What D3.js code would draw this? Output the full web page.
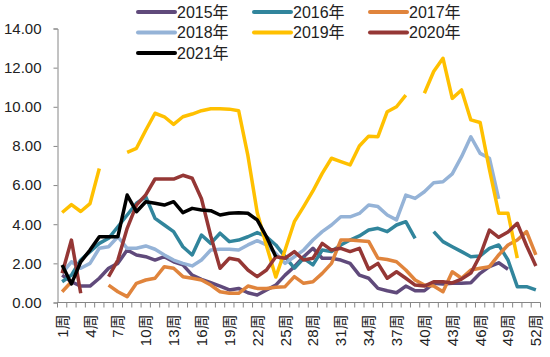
<!DOCTYPE html>
<html><head><meta charset="utf-8">
<script src="https://cdn.jsdelivr.net/npm/d3@7/dist/d3.min.js"></script>
<style>
html,body{margin:0;padding:0;background:#fff;}
text{font-family:"Liberation Sans","Noto Sans CJK SC",sans-serif;fill:#222;}
</style></head>
<body><svg id="c" width="550" height="357"></svg>
<script>
const weeks = d3.range(1, 53);
const weekLabels = weeks.map(w => w + "周");
const tickWeeks = [1,4,7,10,13,16,19,22,25,28,31,34,37,40,43,46,49,52];
const yTicks = [0,2,4,6,8,10,12,14];
const seriesNames = ["2015年","2016年","2017年","2018年","2019年","2020年","2021年"];
const seriesColors = ["#604A7B","#31859C","#E0843C","#95B3D7","#FFC000","#953735","#000000"];

const y2015 = [1.4,1.06,0.84,0.84,1.24,1.75,2.0,2.68,2.43,2.34,2.17,2.34,2.08,1.92,1.4,1.18,1.01,0.84,0.64,0.72,0.5,0.38,0.64,0.89,1.4,1.83,2.34,2.77,2.26,2.26,2.17,2.0,1.4,1.24,0.72,0.6,0.5,0.84,0.6,0.6,0.98,0.95,0.98,0.98,1.01,1.49,1.83,2.03,1.7,null,null,null];
const y2016 = [1.06,1.4,2.17,2.6,3.02,3.28,3.87,4.47,5.07,5.4,4.3,3.96,3.62,2.85,2.43,3.45,3.02,3.54,3.11,3.19,3.36,3.57,3.36,2.94,2.34,1.75,2.26,1.92,2.68,2.6,2.94,3.19,3.4,3.7,3.79,3.62,3.96,4.13,3.28,null,3.62,3.11,2.85,2.6,2.34,2.38,2.77,2.94,2.17,0.81,0.81,0.64];
const y2017 = [0.55,1.06,null,null,null,0.89,0.55,0.3,0.98,1.15,1.24,1.83,1.75,1.32,1.24,1.15,0.89,0.55,0.47,0.47,0.84,0.72,0.72,0.78,0.81,1.32,0.98,1.06,1.49,2.0,3.19,3.19,3.15,3.12,2.26,2.2,2.08,1.66,1.15,0.89,0.84,0.55,1.57,1.24,1.66,1.75,1.83,2.43,2.94,3.19,3.62,2.43];
const y2018 = [1.5,2.08,1.75,2.0,2.77,2.85,3.36,2.77,2.77,2.89,2.72,2.43,2.17,2.0,1.87,2.17,2.68,2.72,2.72,2.68,2.94,3.16,2.94,2.51,2.0,2.34,2.68,3.19,3.62,3.96,4.38,4.38,4.55,4.98,4.9,4.47,4.22,5.49,5.32,5.66,6.12,6.17,6.57,7.45,8.47,7.62,7.37,5.3,null,null,null,null];
const y2019 = [4.6,5.0,4.65,5.05,6.85,null,null,7.67,7.88,8.8,9.67,9.49,9.1,9.49,9.63,9.8,9.9,9.9,9.88,9.8,7.5,4.6,2.9,1.3,2.68,4.13,4.9,5.7,6.6,7.37,7.2,7.03,8.0,8.5,8.47,9.75,10.0,10.6,null,10.69,11.8,12.48,10.43,10.86,9.33,9.2,6.8,4.56,4.56,2.27,null,null];
const y2020 = [1.49,3.19,0.47,null,null,1.32,2.17,3.79,4.98,5.5,6.31,6.31,6.31,6.5,6.35,5.3,3.4,1.75,2.26,2.17,1.66,1.32,1.66,2.34,2.26,2.6,2.17,2.26,3.02,2.68,2.77,2.6,2.77,1.7,2.0,1.24,1.57,1.24,0.89,0.84,1.06,1.06,1.0,1.2,1.5,2.4,3.7,3.33,3.6,4.05,2.9,1.87];
const y2021 = [1.92,0.95,2.08,2.68,3.36,3.36,3.36,5.49,4.64,5.15,5.07,4.98,5.15,4.59,4.81,4.73,4.69,4.47,4.56,4.59,4.56,4.22,3.36,2.34,null,null,null,null,null,null,null,null,null,null,null,null,null,null,null,null,null,null,null,null,null,null,null,null,null,null,null,null];
const seriesValues = [y2015,y2016,y2017,y2018,y2019,y2020,y2021];

const svg = d3.select("#c");
const x = d3.scaleBand().domain(weeks).range([57.5, 540.5]).paddingInner(0).paddingOuter(0);
const y = d3.scaleLinear().domain([0,14]).range([302.5, 28.5]);
const cx = w => x(w) + x.bandwidth()/2;
const axisColor = "#868686";

// Y axis
const yAxis = d3.axisLeft(y).tickValues(yTicks).tickFormat(d3.format(".2f")).tickSize(4).tickPadding(12);
const gy = svg.append("g").attr("transform","translate(57.5,0)").call(yAxis);
gy.select(".domain").attr("stroke",axisColor).attr("stroke-width",1);
gy.selectAll(".tick line").attr("stroke",axisColor);
gy.selectAll(".tick text").style("font-size","15px").attr("fill","#222")
  .style("font-family","'Liberation Sans',sans-serif");

// X axis
const gx = svg.append("g").attr("transform","translate(0,302.5)");
gx.append("line").attr("x1",57.5).attr("x2",540.5).attr("y1",0).attr("y2",0).attr("stroke",axisColor);
const bounds = d3.range(0,53).map(i => 57.5 + i*x.step());
gx.selectAll("line.tk").data(bounds).enter().append("line").attr("class","tk")
  .attr("x1",d=>d).attr("x2",d=>d).attr("y1",0).attr("y2",5).attr("stroke",axisColor);
gx.selectAll("text").data(tickWeeks).enter().append("text")
  .attr("transform", d => `translate(${cx(d)+5.5},12) rotate(-90)`)
  .attr("text-anchor","end")
  .style("font-size","15px")
  .text(d => weekLabels[d-1]);

// lines
const line = d3.line().defined(d => d.v != null).x(d => cx(d.w)).y(d => y(d.v));
seriesValues.forEach((vals, i) => {
  const data = weeks.map((w, j) => ({w: w, v: vals[j]}));
  svg.append("path").datum(data).attr("d", line)
    .attr("fill","none").attr("stroke", seriesColors[i])
    .attr("stroke-width", 3.5).attr("stroke-linejoin","round").attr("stroke-linecap","butt");
});

// legend
const legX = [138, 254, 370];
const legY = [12, 32.5, 53];
seriesNames.forEach((n, i) => {
  const lx = legX[i % 3], ly = legY[Math.floor(i / 3)];
  const g = svg.append("g");
  g.append("line").attr("x1",lx).attr("x2",lx+37).attr("y1",ly).attr("y2",ly)
    .attr("stroke",seriesColors[i]).attr("stroke-width",4).attr("stroke-linecap","round");
  g.append("text").attr("x",lx+39).attr("y",ly).attr("dy","0.36em")
    .style("font-size","16px").text(n);
});
</script></body></html>
